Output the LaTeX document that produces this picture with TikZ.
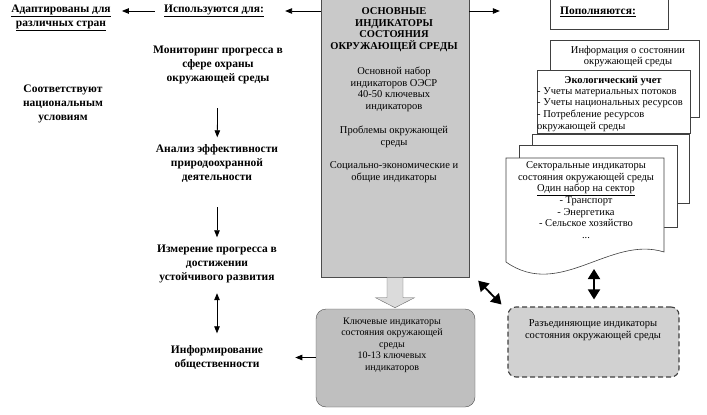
\documentclass[tikz,border=0pt]{standalone}
\usepackage{fontspec}
\setmainfont{Liberation Serif}
\usetikzlibrary{arrows.meta}

\begin{document}
\begin{tikzpicture}[x=1pt, y=-1pt,
	bold/.style={font=\bfseries\fontsize{11.5}{14}\selectfont, align=center, inner sep=0pt},
	plain/.style={font=\fontsize{10.5}{11.7}\selectfont, align=center, inner sep=0pt},
	arr/.style={-{Triangle[length=7pt,width=5.5pt]}, line width=0.8pt},
	dblthin/.style={{Triangle[length=7pt,width=5.5pt]}-{Triangle[length=7pt,width=5.5pt]}, line width=0.8pt},
	dblarr/.style={{Triangle[length=10pt,width=12pt]}-{Triangle[length=10pt,width=12pt]}, line width=1.8pt},
	sheet/.style={draw=black!75, fill=white, line width=0.6pt, inner sep=0pt}]
	\useasboundingbox (0,0) rectangle (707,415);
	% The main block of core indicators
	\node[draw=black!70, fill=gray!42, minimum width=148pt, minimum height=279pt, inner sep=0pt] (main) at (395,138) {};
	\node[plain, font=\bfseries\fontsize{10.5}{11.7}\selectfont] (maintitle) at (394,29.5) {ОСНОВНЫЕ\\ИНДИКАТОРЫ\\СОСТОЯНИЯ\\ОКРУЖАЮЩЕЙ СРЕДЫ};
	\node[plain] (mainset) at (394,89.5) {Основной набор\\индикаторов ОЭСР\\40-50 ключевых\\индикаторов};
	\node[plain] (mainprob) at (394,137) {Проблемы окружающей\\среды};
	\node[plain] (mainsoc) at (394,172) {Социально-экономические и\\общие индикаторы};
	% Left column: what the indicators are used for
	\node[bold] (used) at (214,11) {\underline{Используются для:}};
	\node[bold] (adapt) at (61,18) {\underline{Адаптированы для}\\\underline{различных стран}};
	\foreach \pos/\name/\txt in {{(218,65)/mon/Мониторинг прогресса в\\сфере охраны\\окружающей среды},
			{(63,104)/corr/Соответствуют\\национальным\\условиям},
			{(217,164)/anal/Анализ эффективности\\природоохранной\\деятельности},
			{(217,264)/meas/Измерение прогресса в\\достижении\\устойчивого развития},
			{(217,357.5)/info/Информирование\\общественности}}
		\node[bold] (\name) at \pos {\txt};
	\foreach \source/\dest in {mon/anal, anal/meas}
		\draw[arr, shorten <=24pt, shorten >=7.5pt] (\source) -- (\dest);
	\draw[dblthin, shorten <=10pt, shorten >=12pt] (meas) -- (info);
	% Right column: the stack of sources
	\node[draw=black!75, minimum width=118pt, minimum height=36pt, inner sep=0pt] (refill) at (609,11) {};
	\node[bold] (refilltxt) at (598,12) {\underline{Пополняются:}};
	\node[sheet, minimum width=149pt, minimum height=77pt] (stateinfo) at (624.5,78.5) {};
	\node[plain] (stateinfotxt) at (628,56.5) {Информация о состоянии\\окружающей среды};
	\node[sheet, minimum width=153pt, minimum height=63pt] (ecobox) at (613.5,101.5) {};
	\node[plain, font=\bfseries\fontsize{10.5}{11.7}\selectfont] (ecotitle) at (613,81) {Экологический учет};
	\node[plain, align=left, anchor=west] (ecolist) at (537,109.5) {- Учеты материальных потоков\\- Учеты национальных ресурсов\\- Потребление ресурсов\\окружающей среды};
	\node[sheet, minimum width=157pt, minimum height=69pt] (sheetc) at (610.5,168.5) {};
	\node[sheet, minimum width=158pt, minimum height=82pt] (sheetb) at (598,186) {};
	\draw[sheet] (506,158) -- (664,158) -- (664,252) .. controls (610,235) and (560,300) .. (506,262) -- cycle;
	\node[plain] (sector) at (586,200) {Секторальные индикаторы\\состояния окружающей среды\\\underline{Один набор на сектор}\\- Транспорт\\- Энергетика\\- Сельское хозяйство\\...};
	% Bottom blocks
	\node[draw=black!70, fill=gray!50, rounded corners=10pt, minimum width=159pt, minimum height=98pt, inner sep=0pt] (key) at (395.5,358) {};
	\node[plain, font=\fontsize{10}{11.5}\selectfont] (keytxt) at (392,345) {Ключевые индикаторы\\состояния окружающей\\среды\\10-13 ключевых\\индикаторов};
	\node[draw=black!75, fill=gray!36, dash pattern=on 5pt off 3pt, line width=1.1pt, rounded corners=8pt, minimum width=171pt, minimum height=70pt, inner sep=0pt] (decoup) at (593.5,342) {};
	\node[plain] (decouptxt) at (593,330) {Разъединяющие индикаторы\\состояния окружающей среды};
	% Connectors
	\draw[draw=black!60, fill=gray!28] ([xshift=-8pt]main.south) -- ++(0pt,-20pt) -- ++(-11.5pt,0pt) -- ++(19.5pt,-10pt) -- ++(19.5pt,10pt) -- ++(-11.5pt,0pt) -- ([xshift=8pt]main.south);
	\draw[arr, shorten <=9pt, shorten >=11pt] (used) -- (adapt.east |- used);
	\draw[arr, shorten >=21pt] (main.west |- used) -- (used);
	\draw[arr, shorten >=50pt] (main.east |- used) -- (refill.west |- used);
	\draw[arr, shorten >=32pt] (key.west |- info) -- (info);
	\coordinate (docbot) at (594,269);
	\draw[dblarr, shorten >=7pt] (docbot) -- (decoup.north -| docbot);
	\draw[dblarr] ([shift={(9pt,-3pt)}]main.south east) -- ([shift={(-6pt,2pt)}]decoup.north west);
\end{tikzpicture}
\end{document}
